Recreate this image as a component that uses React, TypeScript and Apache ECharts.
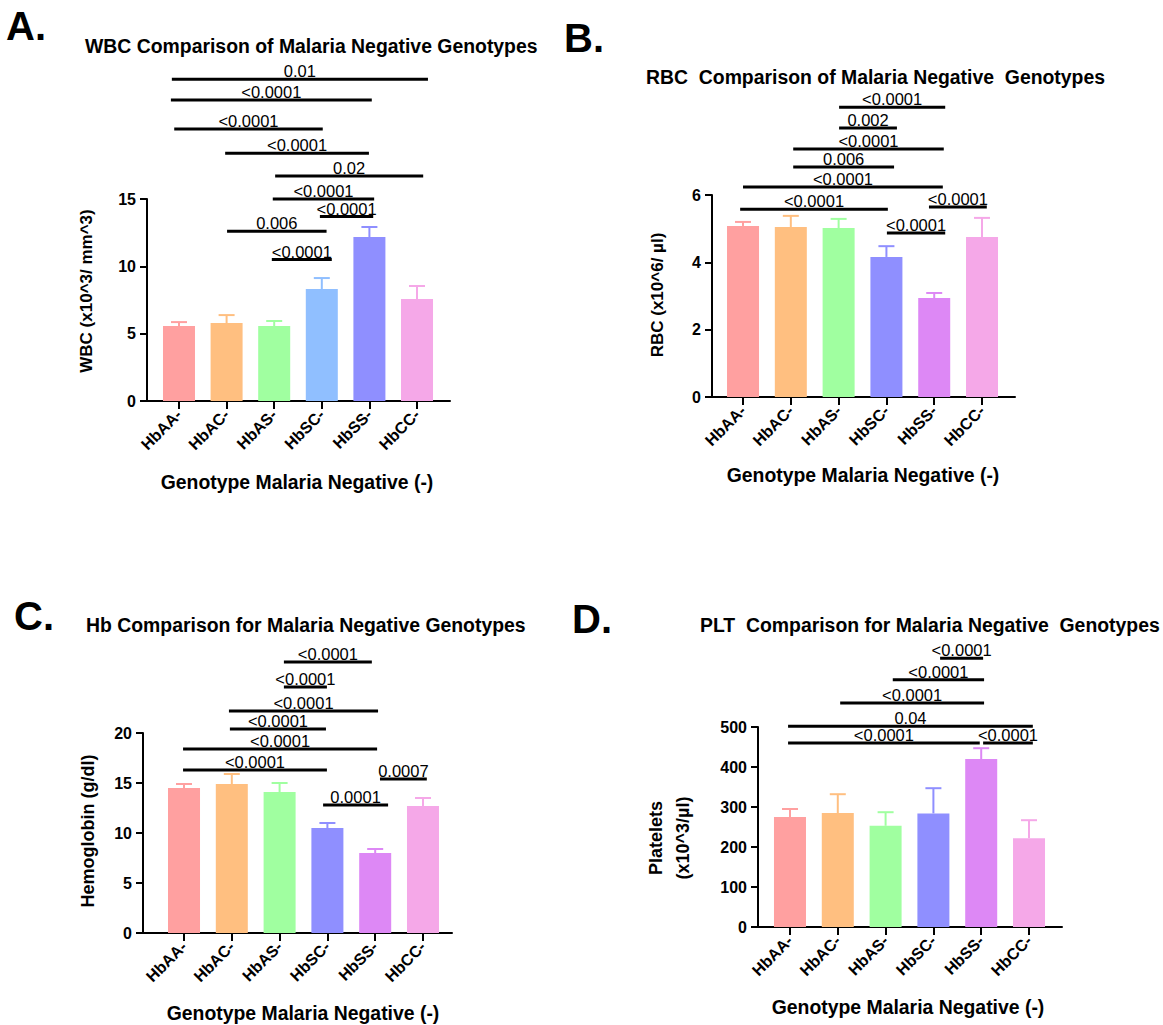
import React, { useEffect, useRef } from "react";
import * as echarts from "echarts";

const categories = ["HbAA-", "HbAC-", "HbAS-", "HbSC-", "HbSS-", "HbCC-"];

const wbcMean = [5.57, 5.79, 5.57, 8.31, 12.18, 7.57];
const wbcUpper = [5.86, 6.38, 5.94, 9.13, 12.92, 8.54];
const rbcMean = [5.08, 5.05, 5.02, 4.16, 2.94, 4.75];
const rbcUpper = [5.2, 5.38, 5.29, 4.48, 3.09, 5.32];
const hbMean = [14.5, 14.9, 14.1, 10.5, 8.0, 12.7];
const hbUpper = [14.9, 15.9, 15.0, 11.0, 8.4, 13.5];
const pltMean = [275, 285, 253, 284, 420, 222];
const pltUpper = [295, 332, 287, 347, 447, 267];

// significance brackets: [from category, to category, height]
const wbcBrackets = [
  [-0.15, 5.23, 23.9], [-0.17, 4.05, 22.35], [-0.1, 3.02, 20.2], [0.97, 3.99, 18.4],
  [2.02, 5.13, 16.7], [1.97, 4.1, 15.0], [2.96, 4.08, 13.7], [1.01, 3.1, 12.6], [1.95, 3.21, 10.5],
];
const wbcP = ["0.01", "<0.0001", "<0.0001", "<0.0001", "0.02", "<0.0001", "<0.0001", "0.006", "<0.0001"];
const rbcBrackets = [
  [2.01, 4.23, 8.61], [2.01, 3.22, 7.99], [1.05, 4.2, 7.37], [1.05, 3.16, 6.83],
  [0, 4.18, 6.24], [-0.06, 3.03, 5.58], [3.89, 5.1, 5.64], [3.01, 4.23, 4.87],
];
const rbcP = ["<0.0001", "0.002", "<0.0001", "0.006", "<0.0001", "<0.0001", "<0.0001", "<0.0001"];
const hbBrackets = [
  [2.09, 3.93, 27.1], [2.09, 2.99, 24.6], [0.94, 4.06, 22.2], [0.96, 2.97, 20.4],
  [-0.02, 4.04, 18.4], [-0.02, 2.99, 16.3], [2.91, 4.27, 12.8], [4.1, 5.08, 15.4],
];
const hbP = ["<0.0001", "<0.0001", "<0.0001", "<0.0001", "<0.0001", "<0.0001", "0.0001", "0.0007"];
const pltBrackets = [
  [3.14, 4.04, 672], [2.15, 4.06, 618], [1.05, 4.06, 560],
  [-0.04, 5.08, 502], [-0.04, 3.97, 460], [4.04, 5.08, 460],
];
const pltP = ["<0.0001", "<0.0001", "<0.0001", "0.04", "<0.0001", "<0.0001"];

const yMaxes = [15, 6, 20, 500];
const yIntervals = [5, 2, 5, 100];

const colorsA = ["#FFA0A0", "#FFBF80", "#A0FFA0", "#90BFFF", "#8F8FFF", "#F5A8E8"];
const colorsB = ["#FFA0A0", "#FFBF80", "#A0FFA0", "#8F8FFF", "#DD88F5", "#F5A8E8"];

const FONT = "'Liberation Sans', Arial, Helvetica, sans-serif";

const panels = [
  { mean: wbcMean, upper: wbcUpper, brackets: wbcBrackets, p: wbcP, colors: colorsA,
    grid: { left: 147, top: 199, width: 303, height: 202 }, xr: [-0.672, 5.693] },
  { mean: rbcMean, upper: rbcUpper, brackets: rbcBrackets, p: rbcP, colors: colorsB,
    grid: { left: 712, top: 195, width: 303, height: 202 }, xr: [-0.649, 5.69] },
  { mean: hbMean, upper: hbUpper, brackets: hbBrackets, p: hbP, colors: colorsB,
    grid: { left: 143, top: 733, width: 309, height: 200 }, xr: [-0.858, 5.607] },
  { mean: pltMean, upper: pltUpper, brackets: pltBrackets, p: pltP, colors: colorsB,
    grid: { left: 758, top: 727, width: 304, height: 200 }, xr: [-0.669, 5.69] },
];

const ticks = [0, 1, 2, 3, 4, 5];

function buildOption() {
  const grids: any[] = [];
  const xAxes: any[] = [];
  const yAxes: any[] = [];
  const series: any[] = [];
  const axisLineStyle = { color: "#000", width: 2 };
  panels.forEach((pn, k) => {
    grids.push({ ...pn.grid, containLabel: false });
    xAxes.push({
      type: "value", gridIndex: k, min: pn.xr[0], max: pn.xr[1],
      splitLine: { show: false },
      axisLine: { show: true, onZero: false, lineStyle: axisLineStyle },
      axisTick: { show: true, customValues: ticks, length: 8, lineStyle: axisLineStyle },
      axisLabel: {
        customValues: ticks, formatter: (v: number) => categories[Math.round(v)],
        rotate: 45, fontSize: 16, fontWeight: "bold", color: "#000", margin: 11, fontFamily: FONT,
      },
    });
    yAxes.push({
      type: "value", gridIndex: k, min: 0, max: yMaxes[k], interval: yIntervals[k],
      splitLine: { show: false },
      axisLine: { show: true, onZero: false, lineStyle: axisLineStyle },
      axisTick: { show: true, length: 7, lineStyle: axisLineStyle },
      axisLabel: { fontSize: 16, fontWeight: "bold", color: "#000", margin: 11, fontFamily: FONT },
    });
    series.push({
      type: "bar", xAxisIndex: k, yAxisIndex: k, barWidth: 32,
      data: pn.mean.map((v, i) => ({ value: [i, v], itemStyle: { color: pn.colors[i] } })),
    });
    series.push({
      type: "custom", xAxisIndex: k, yAxisIndex: k, clip: false,
      encode: { x: 0, y: [1, 2] },
      data: pn.mean.map((v, i) => [i, v, pn.upper[i]]),
      renderItem: (params: any, api: any) => {
        const x = api.value(0);
        const a = api.coord([x, api.value(1)]);
        const b = api.coord([x, api.value(2)]);
        const c = pn.colors[params.dataIndex];
        return {
          type: "group",
          children: [
            { type: "line", shape: { x1: a[0], y1: a[1], x2: b[0], y2: b[1] }, style: { stroke: c, lineWidth: 2 } },
            { type: "line", shape: { x1: b[0] - 8, y1: b[1], x2: b[0] + 8, y2: b[1] }, style: { stroke: c, lineWidth: 2 } },
          ],
        };
      },
    });
    series.push({
      type: "custom", xAxisIndex: k, yAxisIndex: k, clip: false,
      encode: { x: [0, 1], y: 2 },
      data: pn.brackets,
      renderItem: (params: any, api: any) => {
        const a = api.coord([api.value(0), api.value(2)]);
        const b = api.coord([api.value(1), api.value(2)]);
        return {
          type: "group",
          children: [
            { type: "line", shape: { x1: a[0], y1: a[1], x2: b[0], y2: b[1] }, style: { stroke: "#000", lineWidth: 3 } },
            {
              type: "text", x: (a[0] + b[0]) / 2, y: a[1] - 8,
              style: {
                text: pn.p[params.dataIndex], fill: "#000", fontSize: 16.5, fontFamily: FONT,
                textAlign: "center", textVerticalAlign: "middle",
              },
            },
          ],
        };
      },
    });
  });

  const t = (text: string, x: number, y: number, size: number, extra: any = {}) => ({
    type: "text", x, y, rotation: extra.rotation || 0,
    style: {
      text, fill: "#000", fontSize: size, fontWeight: "bold", fontFamily: FONT,
      textAlign: extra.align || "left", textVerticalAlign: "middle",
    },
  });
  const rot = { rotation: Math.PI / 2, align: "center" };
  const graphic = [
    t("A.", 6, 26, 40),
    t("B.", 564, 38, 40),
    t("C.", 14, 616, 40),
    t("D.", 572, 619, 40),
    t("WBC Comparison of Malaria Negative Genotypes", 85, 46, 19.4),
    t("RBC  Comparison of Malaria Negative  Genotypes", 646, 77, 19.4),
    t("Hb Comparison for Malaria Negative Genotypes", 86, 625, 19.4),
    t("PLT  Comparison for Malaria Negative  Genotypes", 700, 625, 19.4),
    t("Genotype Malaria Negative (-)", 297, 482, 19.4, { align: "center" }),
    t("Genotype Malaria Negative (-)", 863, 475, 19.4, { align: "center" }),
    t("Genotype Malaria Negative (-)", 303, 1013, 19.4, { align: "center" }),
    t("Genotype Malaria Negative (-)", 908, 1007, 19.4, { align: "center" }),
    t("WBC (x10^3/ mm^3)", 86, 291, 17, rot),
    t("RBC (x10^6/ µl)", 657, 295, 17, rot),
    t("Hemoglobin (g/dl)", 88, 831, 18, rot),
    t("Platelets", 656, 838, 18, rot),
    t("(x10^3/µl)", 683, 838, 18, rot),
  ];

  return {
    animation: false,
    backgroundColor: "#fff",
    grid: grids,
    xAxis: xAxes,
    yAxis: yAxes,
    series,
    graphic,
  };
}

export default function App() {
  const ref = useRef<HTMLDivElement>(null);
  useEffect(() => {
    if (!ref.current) return;
    const chart = echarts.init(ref.current, null, { renderer: "svg" });
    chart.setOption(buildOption() as any);
    return () => chart.dispose();
  }, []);
  return (
    <div
      ref={ref}
      style={{ position: "fixed", left: 0, top: 0, width: 1163, height: 1025, background: "#fff" }}
    />
  );
}
